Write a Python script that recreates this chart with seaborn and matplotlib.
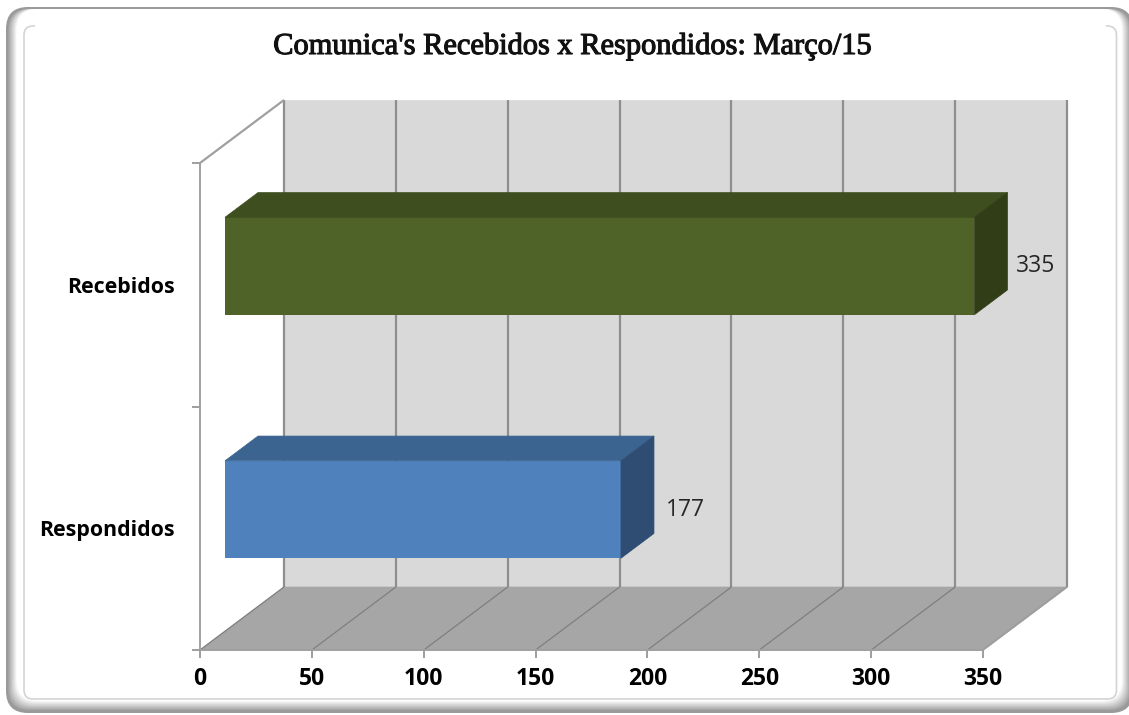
import matplotlib
matplotlib.use("Agg")
import matplotlib.pyplot as plt
import matplotlib.patheffects as pe
from matplotlib.patches import FancyBboxPatch, Polygon
import numpy as np
import pandas as pd
import seaborn as sns

# --- data ---
title = "Comunica's Recebidos x Respondidos: Março/15"
categories = ["Recebidos", "Respondidos"]
values = [335, 177]
xticks = [0, 50, 100, 150, 200, 250, 300, 350]
front_colors = ["#4F6228", "#4F81BD"]
top_colors = ["#3F4E1F", "#3C6491"]
side_colors = ["#313D17", "#2F4D72"]
label_pads = [41, 45]

W, H = 1129, 715
sns.set_theme(style="white")
plt.rcParams["font.family"] = ["Open Sans", "DejaVu Sans"]
fig = plt.figure(figsize=(W / 100, H / 100), dpi=100, facecolor="white")

# --- rounded frame (decoration, pixel space) ---
bg = fig.add_axes([0, 0, 1, 1], zorder=-1)
bg.set_xlim(0, W); bg.set_ylim(H, 0); bg.axis("off")
def rrect(x0, y0, x1, y1, r, fc, ec="none", lw=0):
    bg.add_patch(FancyBboxPatch((x0 + r, y0 + r), x1 - x0 - 2 * r, y1 - y0 - 2 * r,
                                boxstyle=f"round,pad={r},rounding_size={r}",
                                fc=fc, ec=ec, lw=lw))
rrect(6, 7, 1133, 713, 22, "#9A9A9A")
n = 10
for i in range(n):
    t = (i + 1) / n
    g = 0.62 + 0.38 * t
    rrect(6 + 1.5 + 9 * t, 9, 1133 - 2 - 9 * t, 713 - 2 - 10 * t, 21, (g, g, g))
rrect(24, 26, 1116.5, 699, 9, "white", ec="#D4D4D4", lw=1.2)
bg.plot([36, 1104], [26, 26], color="white", lw=2.5)

# --- main axes: the front plane of the 3D box ---
L, R, T, B = 200, 983, 163, 650
ax = fig.add_axes([L / W, 1 - B / H, (R - L) / W, (B - T) / H], facecolor="none")
df = pd.DataFrame({"categoria": categories, "valor": values})
sns.barplot(data=df, x="valor", y="categoria", hue="categoria", palette=front_colors,
            orient="h", width=0.4, legend=False, ax=ax, saturation=1, zorder=5,
            linewidth=0, edgecolor="none")
ax.set_xlim(xticks[0], xticks[-1])
ax.set_ylim(1.5, -0.5)

px_x = (xticks[-1] - xticks[0]) / (R - L)      # data units per pixel
px_y = 2.0 / (B - T)
DX, DY = 84 * px_x, -63 * px_y                 # full depth of the box
xmax = xticks[-1]
ytop, ybot = -0.5, 1.5

wall = "#D9D9D9"; floor = "#A6A6A6"; line = "#8E8E8E"
def poly(pts, fc, z=1):
    ax.add_patch(Polygon(pts, closed=True, fc=fc, ec=fc, lw=0.5, clip_on=False, zorder=z))
def seg(xs, ys, c=line, lw=1.6, z=2):
    ax.plot(xs, ys, color=c, lw=lw, clip_on=False, zorder=z, solid_capstyle="butt")

# back wall and floor
poly([(DX, ytop + DY), (xmax + DX, ytop + DY), (xmax + DX, ybot + DY), (DX, ybot + DY)], wall)
poly([(0, ybot), (DX, ybot + DY), (xmax + DX, ybot + DY), (xmax, ybot)], floor)
for v in xticks:
    seg([v + DX, v + DX], [ytop + DY, ybot + DY])
    seg([v, v + DX], [ybot, ybot + DY], c="#7F7F7F", lw=0.9)
seg([0, DX], [ytop, ytop + DY], c="#A0A0A0")
seg([xmax, xmax + DX], [ybot, ybot + DY], c="#A0A0A0", lw=1.2)
seg([0, xmax], [ybot, ybot], c="#A0A0A0", lw=1.4)

# 3D bars: shift the seaborn bars into the box and add their top and side faces
fx, dd = 25 / 84, 33 / 84
for p, top_c, side_c, v, pad in zip(ax.patches, top_colors, side_colors, values, label_pads):
    p.set_x(p.get_x() + fx * DX)
    p.set_y(p.get_y() + fx * DY)
    p.set_clip_on(False)
    x0, x1 = p.get_x(), p.get_x() + p.get_width()
    y0, y1 = p.get_y(), p.get_y() + p.get_height()
    ddx, ddy = dd * DX, dd * DY
    poly([(x0, y0), (x1, y0), (x1 + ddx, y0 + ddy), (x0 + ddx, y0 + ddy)], top_c, 5)
    poly([(x1, y0), (x1 + ddx, y0 + ddy), (x1 + ddx, y1 + ddy), (x1, y1)], side_c, 5)
    ax.annotate(str(v), xy=(x1, (y0 + y1) / 2), xytext=(pad, 0), textcoords="offset pixels",
                ha="left", va="center", fontsize=16.5, color="#262626", zorder=6,
                annotation_clip=False)

# axes, ticks, labels
for s in ["top", "right", "bottom"]:
    ax.spines[s].set_visible(False)
ax.spines["left"].set_color("#A0A0A0")
ax.spines["left"].set_linewidth(1.4)
ax.set_xlabel(""); ax.set_ylabel("")
ax.set_xticks(xticks)
ax.set_xticklabels([str(v) for v in xticks], fontsize=16.5, fontweight="bold", color="black")
ax.tick_params(axis="x", bottom=True, length=5.5, width=1.2, color="#8E8E8E", pad=7)
ax.set_yticks([0, 1])
ax.set_yticklabels(categories, fontsize=15.4, fontweight="bold", color="black")
ax.tick_params(axis="y", which="major", left=False, length=0, pad=18)
ax.set_yticks([-0.5, 0.5, 1.5], minor=True)
ax.tick_params(axis="y", which="minor", left=True, length=5.5, width=1.2, color="#8E8E8E")

fig.text(572 / W, 1 - 47 / H, title, ha="center", va="center", fontsize=21.9,
         family="Liberation Serif", color="#111111",
         path_effects=[pe.withStroke(linewidth=0.8, foreground="#111111")])

fig.savefig("out.png", dpi=100)
